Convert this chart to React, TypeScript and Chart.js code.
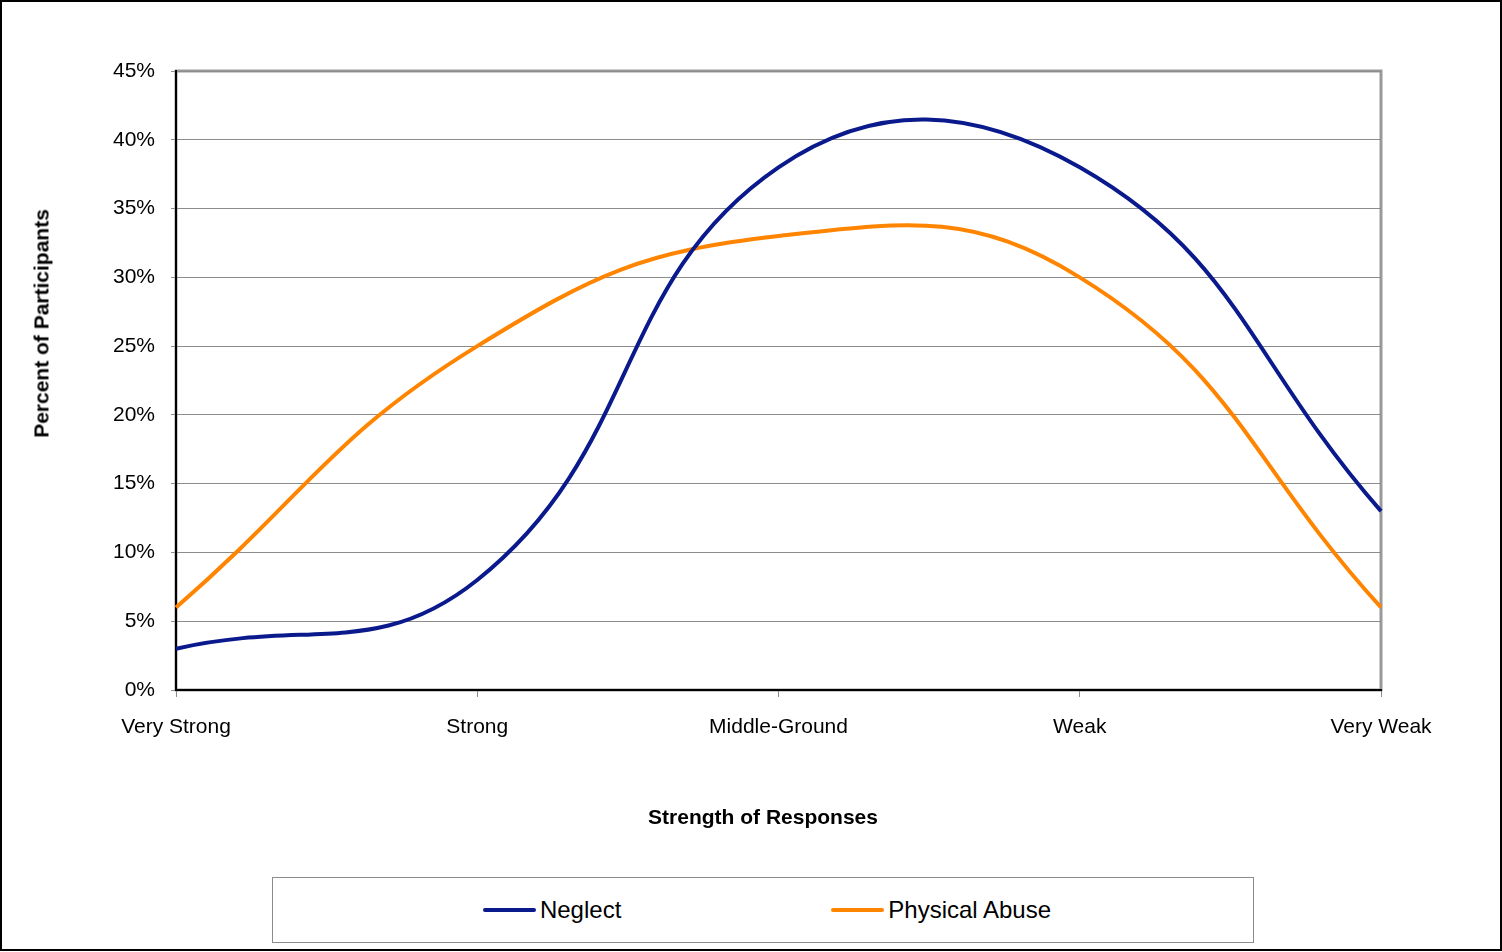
import React, { useEffect, useRef } from "react";
import { Chart, registerables } from "chart.js";

Chart.register(...registerables);

// Response strength categories along the x axis
const categories = ["Very Strong", "Strong", "Middle-Ground", "Weak", "Very Weak"];

// Percent of participants per category
const neglect = [3, 8, 38, 38, 13];
const physicalAbuse = [6, 25, 33, 30, 6];

const seriesNames = ["Neglect", "Physical Abuse"];

// Y axis range in percent
const yMin = 0;
const yMax = 45;
const yStep = 5;

const xTitle = "Strength of Responses";
const yTitle = "Percent of Participants";

const NAVY = "#0A1A8C";
const ORANGE = "#FF8500";
const FONT = "'Liberation Sans', Arial, Helvetica, sans-serif";
const GRID = "#8c8c8c";

// Horizontal centre shared by the x title and the legend box
const FIGURE_CENTER_X = 763;

// Gray frame behind the plot area plus the outer black border of the figure
const framePlugin = {
  id: "frame",
  beforeDraw(chart: any) {
    const { ctx, chartArea: a } = chart;
    ctx.save();
    ctx.strokeStyle = "#999999";
    ctx.lineWidth = 3;
    ctx.strokeRect(a.left, a.top, a.right - a.left, a.bottom - a.top);
    ctx.restore();
  },
  afterDraw(chart: any) {
    const { ctx, width, height } = chart;
    ctx.save();
    ctx.strokeStyle = "#000000";
    ctx.lineWidth = 2;
    ctx.strokeRect(1, 1, width - 2, height - 3);
    ctx.restore();
  },
};

function ResponseChart() {
  const canvasRef = useRef<HTMLCanvasElement | null>(null);

  useEffect(() => {
    const canvas = canvasRef.current;
    if (!canvas) return;
    const chart = new Chart(canvas, {
      type: "line",
      data: {
        labels: categories,
        datasets: [
          {
            label: seriesNames[0],
            data: neglect,
            borderColor: NAVY,
            backgroundColor: NAVY,
            borderWidth: 4,
            pointRadius: 0,
            tension: 0.44,
            fill: false,
          },
          {
            label: seriesNames[1],
            data: physicalAbuse,
            borderColor: ORANGE,
            backgroundColor: ORANGE,
            borderWidth: 4,
            pointRadius: 0,
            tension: 0.44,
            fill: false,
          },
        ],
      },
      options: {
        responsive: false,
        animation: false,
        devicePixelRatio: 1,
        layout: { padding: { top: 71, right: 121, bottom: 122, left: 0 } },
        plugins: {
          legend: { display: false },
          tooltip: { enabled: false },
        },
        scales: {
          x: {
            type: "category",
            offset: false,
            grid: {
              drawOnChartArea: false,
              drawTicks: true,
              tickLength: 7,
              tickColor: GRID,
              tickWidth: 1,
            },
            border: { color: "#000000", width: 2 },
            ticks: {
              color: "#000000",
              font: { family: FONT, size: 21 },
              padding: 18,
              maxRotation: 0,
              autoSkip: false,
            },
            afterFit(scale: any) {
              scale.height = 140;
            },
          },
          y: {
            min: yMin,
            max: yMax,
            grid: {
              color: GRID,
              lineWidth: 1,
              drawTicks: true,
              tickLength: 5,
              tickColor: GRID,
            },
            border: { color: "#000000", width: 2 },
            ticks: {
              stepSize: yStep,
              color: "#000000",
              font: { family: FONT, size: 21 },
              padding: 16,
              callback: (v: any) => `${v}%`,
            },
            afterFit(scale: any) {
              scale.width = 176;
            },
          },
        },
      },
      plugins: [framePlugin],
    });
    return () => chart.destroy();
  }, []);

  return <canvas ref={canvasRef} width={1502} height={952} style={{ display: "block" }} />;
}

function AxisTitles() {
  const base: React.CSSProperties = {
    position: "absolute",
    fontFamily: FONT,
    fontSize: 21,
    fontWeight: "bold",
    lineHeight: "25px",
    height: 25,
    color: "#000000",
    textAlign: "center",
    whiteSpace: "nowrap",
  };
  return (
    <>
      <div style={{ ...base, left: FIGURE_CENTER_X - 300, top: 803.5, width: 600 }}>{xTitle}</div>
      <div
        style={{
          ...base,
          left: 41 - 200,
          top: 323 - 12.5,
          width: 400,
          transform: "rotate(-90deg)",
          transformOrigin: "50% 50%",
        }}
      >
        {yTitle}
      </div>
    </>
  );
}

function Legend() {
  const colors = [NAVY, ORANGE];
  const width = 982;
  return (
    <div
      style={{
        position: "absolute",
        left: FIGURE_CENTER_X - width / 2,
        top: 877,
        width,
        height: 66,
        boxSizing: "border-box",
        border: "1px solid #8c8c8c",
        paddingLeft: 8,
        display: "flex",
        alignItems: "center",
        justifyContent: "center",
        gap: 210,
        fontFamily: FONT,
        fontSize: 24,
        color: "#000000",
        background: "#ffffff",
      }}
    >
      {seriesNames.map((name, i) => (
        <div key={name} style={{ display: "flex", alignItems: "center" }}>
          <span
            style={{
              display: "inline-block",
              width: 53,
              height: 4,
              borderRadius: 2,
              background: colors[i],
              marginRight: 4,
            }}
          />
          <span>{name}</span>
        </div>
      ))}
    </div>
  );
}

export default function App() {
  return (
    <div style={{ position: "absolute", left: 0, top: 0, width: 1502, height: 952, background: "#ffffff" }}>
      <ResponseChart />
      <AxisTitles />
      <Legend />
    </div>
  );
}
